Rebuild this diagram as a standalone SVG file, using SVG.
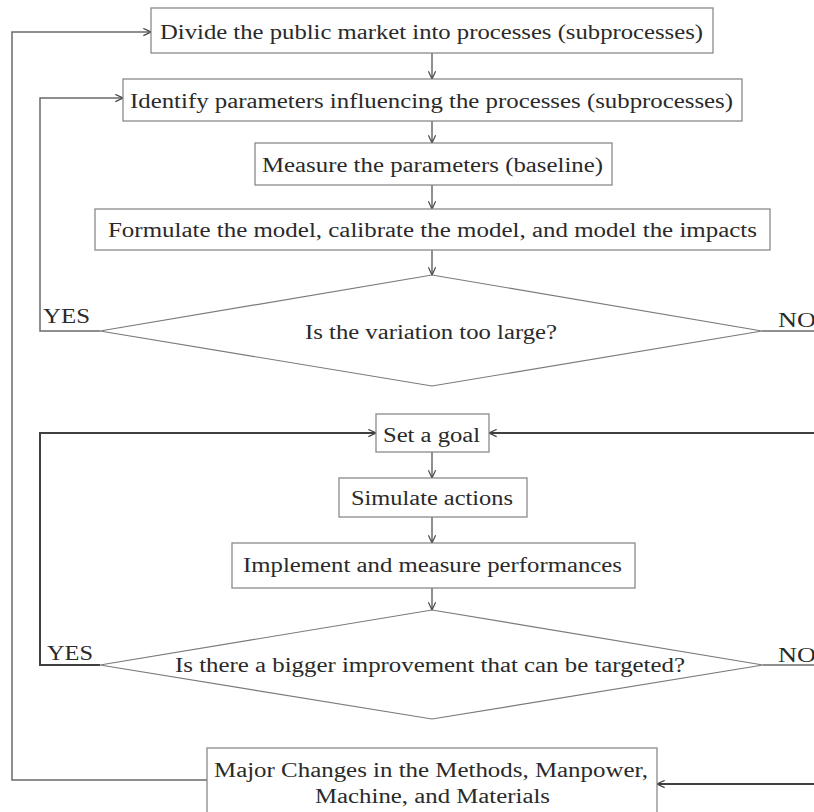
<svg xmlns="http://www.w3.org/2000/svg" width="814" height="812" viewBox="0 0 814 812">
<style>
.box{fill:#fff;stroke:#8a8a8a;stroke-width:1.3}
.dia{fill:#fff;stroke:#7a7a7a;stroke-width:1.2}
.t{font-family:"Liberation Serif","Times New Roman",serif;font-size:20px;fill:#2a2a2a}
.c{fill:none;stroke:#6a6a6a;stroke-width:1.5}
.d{fill:none;stroke:#404040;stroke-width:2}
</style>
<defs>
<marker id="a" viewBox="0 0 10 10" refX="9.5" refY="5" markerWidth="9" markerHeight="9" markerUnits="userSpaceOnUse" orient="auto">
<polyline points="1,1 9.5,5 1,9" fill="none" stroke="#444" stroke-width="1.3"/>
</marker>
</defs>
<rect width="814" height="812" fill="#fff"/>
<g id="connectors">
<path class="c" d="M432,53 V79" marker-end="url(#a)"/>
<path class="c" d="M432,121 V143" marker-end="url(#a)"/>
<path class="c" d="M432,185 V209" marker-end="url(#a)"/>
<path class="c" d="M432,250 V275" marker-end="url(#a)"/>
<path class="c" d="M100,331 H40 V98 H123" marker-end="url(#a)"/>
<path class="c" d="M762,331 H820"/>
<path class="d" d="M820,433 H489" marker-end="url(#a)"/>
<path class="d" d="M100,665 H40 V433 H376" marker-end="url(#a)"/>
<path class="c" d="M432,452 V478" marker-end="url(#a)"/>
<path class="c" d="M432,517 V543" marker-end="url(#a)"/>
<path class="c" d="M432,588 V610" marker-end="url(#a)"/>
<path class="c" d="M763,665 H820"/>
<path class="d" d="M820,784 H657" marker-end="url(#a)"/>
<path class="c" d="M207,780 H12 V32 H151" marker-end="url(#a)"/>
</g>
<g id="n1"><rect class="box" x="151" y="8" width="562" height="45"/><text class="t" x="160" y="39" textLength="543" lengthAdjust="spacingAndGlyphs">Divide the public market into processes (subprocesses)</text></g>
<g id="n2"><rect class="box" x="123" y="79" width="619" height="42"/><text class="t" x="130" y="108" textLength="603" lengthAdjust="spacingAndGlyphs">Identify parameters influencing the processes (subprocesses)</text></g>
<g id="n3"><rect class="box" x="255" y="143" width="357" height="42"/><text class="t" x="262" y="172" textLength="341" lengthAdjust="spacingAndGlyphs">Measure the parameters (baseline)</text></g>
<g id="n4"><rect class="box" x="95" y="209" width="675" height="41"/><text class="t" x="108" y="237" textLength="649" lengthAdjust="spacingAndGlyphs">Formulate the model, calibrate the model, and model the impacts</text></g>
<g id="d1"><polygon class="dia" points="432,275 762,331 432,386 100,331"/><text class="t" x="305" y="339" textLength="252" lengthAdjust="spacingAndGlyphs">Is the variation too large?</text>
<text class="t" x="43" y="323" textLength="47" lengthAdjust="spacingAndGlyphs">YES</text><text class="t" x="778" y="327" textLength="38" lengthAdjust="spacingAndGlyphs">NO</text></g>
<g id="n5"><rect class="box" x="376" y="414" width="113" height="38"/><text class="t" x="383" y="442" textLength="97" lengthAdjust="spacingAndGlyphs">Set a goal</text></g>
<g id="n6"><rect class="box" x="339" y="478" width="188" height="39"/><text class="t" x="351" y="505" textLength="162" lengthAdjust="spacingAndGlyphs">Simulate actions</text></g>
<g id="n7"><rect class="box" x="232" y="543" width="403" height="45"/><text class="t" x="243" y="572" textLength="379" lengthAdjust="spacingAndGlyphs">Implement and measure performances</text></g>
<g id="d2"><polygon class="dia" points="432,610 763,665 432,719 100,665"/><text class="t" x="175" y="672" textLength="510" lengthAdjust="spacingAndGlyphs">Is there a bigger improvement that can be targeted?</text>
<text class="t" x="47" y="660" textLength="46" lengthAdjust="spacingAndGlyphs">YES</text><text class="t" x="778" y="662" textLength="38" lengthAdjust="spacingAndGlyphs">NO</text></g>
<g id="n8"><rect class="box" x="207" y="748" width="450" height="80"/><text class="t" x="214" y="777" textLength="434" lengthAdjust="spacingAndGlyphs">Major Changes in the Methods, Manpower,</text><text class="t" x="315" y="803" textLength="235" lengthAdjust="spacingAndGlyphs">Machine, and Materials</text></g>
</svg>
